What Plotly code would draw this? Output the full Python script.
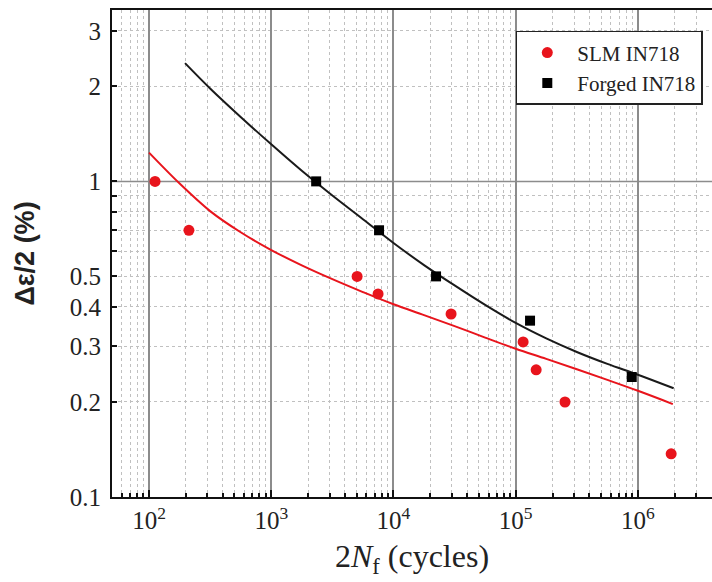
import plotly.graph_objects as go

# ---- data ----
slm_n = [112, 212, 5040, 7480, 29600, 115000, 147000, 253000, 1.87e6]
slm_e = [1.0, 0.70, 0.50, 0.44, 0.38, 0.31, 0.253, 0.20, 0.137]

forged_n = [2330, 7620, 22300, 131000, 890000]
forged_e = [1.0, 0.70, 0.50, 0.362, 0.24]

# fitted curves
slm_fit_n = [100, 178, 316, 562, 1000, 1778, 3162, 5623, 10000, 17783, 31623, 56234,
             100000, 177828, 316228, 562341, 1e6, 1.93e6]
slm_fit_e = [1.233, 0.984, 0.805, 0.690, 0.606, 0.542, 0.490, 0.446, 0.408, 0.377, 0.348, 0.320,
             0.295, 0.274, 0.254, 0.235, 0.217, 0.197]

forged_fit_n = [197, 316, 562, 1000, 1778, 3162, 5623, 10000, 17783, 31623, 56234,
                100000, 177828, 316228, 562341, 1e6, 1.96e6]
forged_fit_e = [2.37, 1.97, 1.60, 1.31, 1.08, 0.902, 0.759, 0.638, 0.543, 0.468, 0.406,
                0.356, 0.318, 0.288, 0.264, 0.244, 0.221]

x_tickvals = [1e2, 1e3, 1e4, 1e5, 1e6]
x_ticktext = ["10<sup>2</sup>", "10<sup>3</sup>", "10<sup>4</sup>", "10<sup>5</sup>", "10<sup>6</sup>"]
y_tickvals = [0.1, 0.2, 0.3, 0.4, 0.5, 1, 2, 3]
y_ticktext = ["0.1", "0.2", "0.3", "0.4", "0.5", "1", "2", "3"]

RED = "#e8141c"
SERIF = "Liberation Serif, Times New Roman, serif"

fig = go.Figure()
fig.add_trace(go.Scatter(x=slm_fit_n, y=slm_fit_e, mode="lines",
                         line=dict(color=RED, width=2, shape="spline", smoothing=1.0),
                         showlegend=False, hoverinfo="skip"))
fig.add_trace(go.Scatter(x=forged_fit_n, y=forged_fit_e, mode="lines",
                         line=dict(color="#1a1a1a", width=2, shape="spline", smoothing=1.0),
                         showlegend=False, hoverinfo="skip"))
fig.add_trace(go.Scatter(x=slm_n, y=slm_e, mode="markers", name="SLM IN718",
                         marker=dict(color=RED, size=11, symbol="circle")))
fig.add_trace(go.Scatter(x=forged_n, y=forged_e, mode="markers", name="Forged IN718",
                         marker=dict(color="black", size=10, symbol="square")))

x_minor = [k * 10 ** e for e in range(1, 7) for k in range(2, 10)]
y_minor = [0.2, 0.3, 0.4, 0.5, 0.6, 0.7, 0.8, 0.9, 2, 3]

fig.add_hline(y=1, line=dict(color="#8c8c8c", width=1.5), layer="below")

fig.update_layout(
    width=712, height=582,
    margin=dict(l=112, r=0, t=10, b=85),
    paper_bgcolor="white", plot_bgcolor="white",
    font=dict(family=SERIF, color="#222", size=25),
    showlegend=True,
    legend=dict(x=0.673, y=0.957, xanchor="left", yanchor="top",
                bordercolor="#222", borderwidth=1.5, bgcolor="white",
                font=dict(family=SERIF, size=21, color="#222"),
                itemwidth=50, tracegroupgap=0),
    xaxis=dict(type="log", range=[1.697, 6.606],
               tickvals=x_tickvals, ticktext=x_ticktext,
               ticks="inside", ticklen=7, tickwidth=2, tickcolor="#111",
               showline=True, linecolor="#111", linewidth=2, mirror=True,
               showgrid=True, gridcolor="#8c8c8c", gridwidth=1.5,
               zeroline=False,
               tickfont=dict(family=SERIF, size=25, color="#222"),
               minor=dict(tickvals=x_minor, ticks="inside", ticklen=4, tickwidth=1.5, tickcolor="#111",
                          showgrid=True, gridcolor="#c0c0c0", griddash="dot", gridwidth=1),
               title=dict(text="2<i>N</i><sub>f</sub> (cycles)", font=dict(family=SERIF, size=32, color="#222"),
                          standoff=12)),
    yaxis=dict(type="log", range=[-1, 0.543],
               tickvals=y_tickvals, ticktext=y_ticktext,
               ticks="inside", ticklen=5, tickwidth=2, tickcolor="#111",
               showline=True, linecolor="#111", linewidth=2, mirror=False,
               showgrid=False, zeroline=False,
               tickfont=dict(family=SERIF, size=25, color="#222"),
               ticklabelstandoff=4,
               minor=dict(tickvals=y_minor, ticks="inside", ticklen=5, tickwidth=1.5, tickcolor="#111",
                          showgrid=True, gridcolor="#c0c0c0", griddash="dot", gridwidth=1),
               title=dict(text="Δε/2 (%)", font=dict(family="Liberation Sans, Arial, sans-serif", size=27,
                                                     color="#222", weight="bold"),
                          standoff=27)),
)

fig.write_html("out.html")
